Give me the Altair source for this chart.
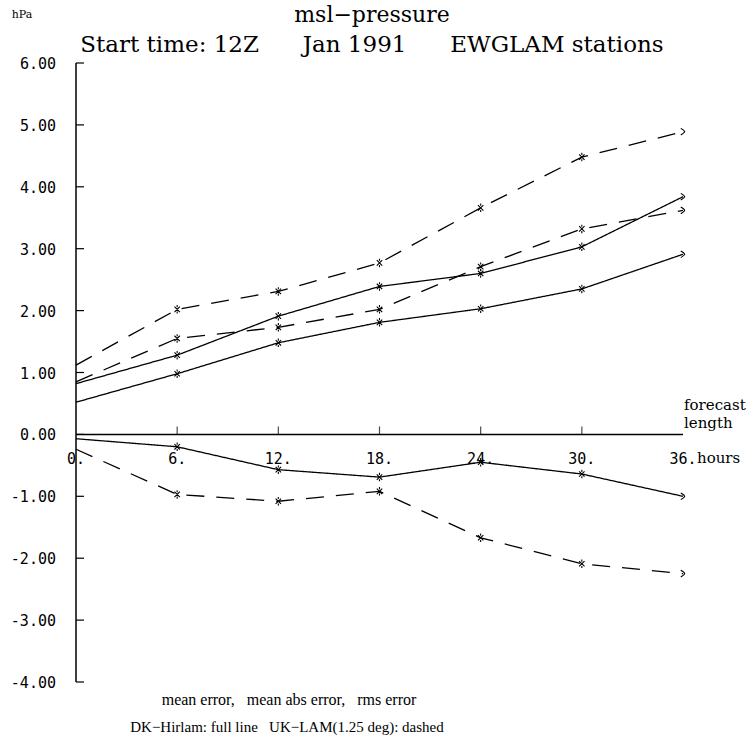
import altair as alt
import pandas as pd

# Forecast length (hours)
hours = [0, 6, 12, 18, 24, 30, 36]

# DK-Hirlam (full line)
dk_rms = [0.82, 1.28, 1.91, 2.39, 2.60, 3.03, 3.84]
dk_mae = [0.52, 0.98, 1.48, 1.81, 2.03, 2.35, 2.91]
dk_me = [-0.07, -0.20, -0.57, -0.69, -0.45, -0.64, -1.00]

# UK-LAM 1.25 deg (dashed)
uk_rms = [1.12, 2.02, 2.31, 2.77, 3.66, 4.48, 4.89]
uk_mae = [0.85, 1.55, 1.73, 2.02, 2.71, 3.32, 3.62]
uk_me = [-0.24, -0.97, -1.08, -0.92, -1.67, -2.09, -2.25]

y_ticks = [-4, -3, -2, -1, 0, 1, 2, 3, 4, 5, 6]
x_ticks = [6, 12, 18, 24, 30]
x_labels = ["0.", "6.", "12.", "18.", "24.", "30.", "36."]

series = [
    ("DK rms", "full", dk_rms),
    ("DK mae", "full", dk_mae),
    ("DK me", "full", dk_me),
    ("UK rms", "dashed", uk_rms),
    ("UK mae", "dashed", uk_mae),
    ("UK me", "dashed", uk_me),
]
rows = []
for name, style, vals in series:
    for h, v in zip(hours, vals):
        rows.append({"hour": h, "value": v, "series": name, "style": style})
df = pd.DataFrame(rows)

SERIF = "DejaVu Serif"
NARROW_SERIF = "Liberation Serif"
MONO = "DejaVu Sans Mono"

x_scale = alt.Scale(domain=[0, 36], nice=False, zero=False)
y_scale = alt.Scale(domain=[-4, 6], nice=False, zero=False)
X = alt.X("hour:Q", scale=x_scale, axis=None)
Y = alt.Y("value:Q", scale=y_scale, axis=None)

base = alt.Chart(df)

lines = base.mark_line(color="black", strokeWidth=1.3).encode(
    x=X,
    y=Y,
    detail="series:N",
    strokeDash=alt.StrokeDash(
        "style:N",
        scale=alt.Scale(domain=["full", "dashed"], range=[[1, 0], [18, 12]]),
        legend=None,
    ),
)

star = "M-0.7,-0.7L0.7,0.7M-0.7,0.7L0.7,-0.7M0,-1.1L0,-0.55M0,0.55L0,1.1"
markers = base.transform_filter("datum.hour > 0 && datum.hour < 36").mark_point(
    shape=star, size=60, color="black", strokeWidth=1.1, filled=False, opacity=1
).encode(x=X, y=Y)

arrow = "M-0.6,-0.9Q0.4,-0.3 0.45,0Q0.4,0.3 -0.6,0.9"
ends = base.transform_filter("datum.hour == 36").mark_point(
    shape=arrow, size=55, color="black", strokeWidth=1.1, filled=False, opacity=1
).encode(x=X, y=Y)

# y axis: line, inward ticks, labels
ydf = pd.DataFrame({"v": y_ticks, "label": [f"{t:.2f}" for t in y_ticks]})
y_domain = alt.Chart(pd.DataFrame({"a": [6], "b": [-4]})).mark_rule(
    color="black", strokeWidth=1.5
).encode(x=alt.value(0), y=alt.Y("a:Q", scale=y_scale, axis=None), y2="b:Q")
y_tickmarks = alt.Chart(ydf).mark_rule(color="black", strokeWidth=1.2).encode(
    x=alt.value(0), x2=alt.value(8), y=alt.Y("v:Q", scale=y_scale, axis=None)
)
y_ticklabels = alt.Chart(ydf).mark_text(
    align="right", baseline="middle", font=MONO, fontSize=15, dy=1, color="black"
).encode(x=alt.value(-20), y=alt.Y("v:Q", scale=y_scale, axis=None), text="label:N")

# x axis drawn along zero
x_line = alt.Chart(pd.DataFrame({"a": [0], "b": [36], "z": [0]})).mark_rule(
    color="black", strokeWidth=1.5
).encode(
    x=alt.X("a:Q", scale=x_scale, axis=None),
    x2="b:Q",
    y=alt.Y("z:Q", scale=y_scale, axis=None),
)
xt = pd.DataFrame({"h": x_ticks, "z": [0] * len(x_ticks)})
x_tickmarks = alt.Chart(xt).mark_tick(
    orient="vertical", size=8, thickness=1.2, color="black", yOffset=-4
).encode(
    x=alt.X("h:Q", scale=x_scale, axis=None), y=alt.Y("z:Q", scale=y_scale, axis=None)
)
xl = pd.DataFrame({"h": hours, "z": [0] * len(hours), "label": x_labels})
x_ticklabels = alt.Chart(xl).mark_text(
    align="center", baseline="middle", font=MONO, fontSize=15, dy=25, color="black"
).encode(
    x=alt.X("h:Q", scale=x_scale, axis=None),
    y=alt.Y("z:Q", scale=y_scale, axis=None),
    text="label:N",
)
end_pt = pd.DataFrame({"h": [36], "z": [0]})
hours_lbl = alt.Chart(end_pt).mark_text(
    align="left", baseline="middle", font=SERIF, fontSize=15, dx=14, dy=24, color="black"
).encode(
    x=alt.X("h:Q", scale=x_scale, axis=None),
    y=alt.Y("z:Q", scale=y_scale, axis=None),
    text=alt.value("hours"),
)
fc_lbl = alt.Chart(end_pt).mark_text(
    align="left", baseline="alphabetic", font=SERIF, fontSize=15, dx=1, dy=-24, color="black"
).encode(
    x=alt.X("h:Q", scale=x_scale, axis=None),
    y=alt.Y("z:Q", scale=y_scale, axis=None),
    text=alt.value("forecast"),
)
len_lbl = alt.Chart(end_pt).mark_text(
    align="left", baseline="alphabetic", font=SERIF, fontSize=15, dx=1, dy=-6, color="black"
).encode(
    x=alt.X("h:Q", scale=x_scale, axis=None),
    y=alt.Y("z:Q", scale=y_scale, axis=None),
    text=alt.value("length"),
)

NB = "\u00a0"


def note(text, x, y, size, font=SERIF, align="center"):
    return alt.Chart(pd.DataFrame({"t": [text]})).mark_text(
        align=align, baseline="middle", font=font, fontSize=size, color="black"
    ).encode(x=alt.value(x), y=alt.value(y), text="t:N")


unit = note("hPa", -54, -48, 11)
title = note("msl\u2212pressure", 296, -48, 22)
subtitle = note(
    f"Start time: 12Z{NB*6}Jan 1991{NB*6}EWGLAM stations", 296, -18, 23
)
foot1 = note(
    f"mean error,{NB*3}mean abs error,{NB*3}rms error", 213, 637, 16, font=NARROW_SERIF
)
foot2 = note(
    f"DK\u2212Hirlam: full line{NB*3}UK\u2212LAM(1.25 deg): dashed",
    211, 664, 15, font=NARROW_SERIF,
)

chart = alt.layer(
    lines, markers, ends,
    y_domain, y_tickmarks, y_ticklabels,
    x_line, x_tickmarks, x_ticklabels, hours_lbl, fc_lbl, len_lbl,
    unit, title, subtitle, foot1, foot2,
).properties(
    width=607,
    height=619,
    autosize=alt.AutoSizeParams(type="none"),
    padding={"left": 76, "top": 63, "right": 67, "bottom": 56},
    background="white",
).configure_view(stroke=None)

chart.save("out.html", embed_options={"renderer": "svg", "actions": False})
